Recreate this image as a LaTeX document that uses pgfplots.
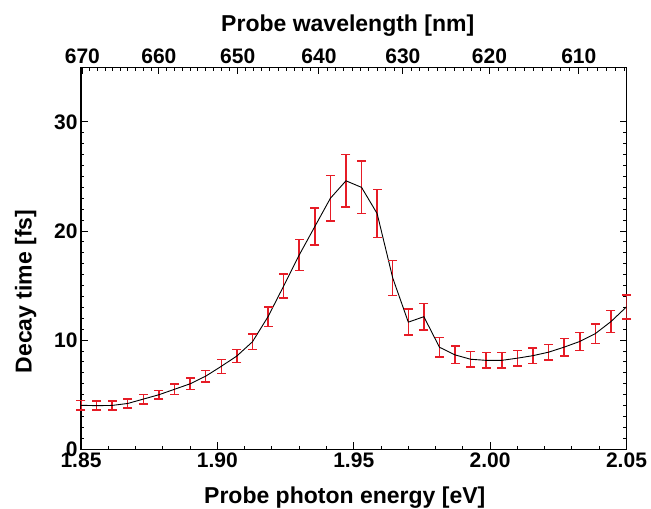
\documentclass[border=0pt]{standalone}
\usepackage{pgfplots}
\pgfplotsset{compat=1.18}
\usepackage{pgfplotstable}
\usepackage{fontspec}
\setmainfont{Liberation Sans}
\definecolor{ebred}{RGB}{230,28,38}

\pgfplotstableread{
E y err
1.85000 4.03 0.42
1.85571 4.00 0.41
1.86143 4.02 0.41
1.86714 4.20 0.41
1.87286 4.60 0.44
1.87857 5.00 0.40
1.88429 5.50 0.50
1.89000 6.00 0.53
1.89571 6.70 0.53
1.90143 7.60 0.64
1.90714 8.55 0.60
1.91286 9.85 0.70
1.91857 12.15 0.88
1.92429 14.95 1.10
1.93000 17.80 1.40
1.93571 20.40 1.70
1.94143 23.00 2.10
1.94714 24.60 2.40
1.95286 24.00 2.40
1.95857 21.60 2.20
1.96429 15.70 1.60
1.97000 11.65 1.20
1.97571 12.15 1.20
1.98143 9.35 0.90
1.98714 8.65 0.80
1.99286 8.25 0.70
1.99857 8.15 0.70
2.00429 8.15 0.70
2.01000 8.35 0.70
2.01571 8.58 0.70
2.02143 8.90 0.72
2.02714 9.36 0.80
2.03286 9.88 0.82
2.03857 10.60 0.90
2.04429 11.70 1.00
2.05000 13.05 1.10
}\decaydata

\begin{document}
\begin{tikzpicture}
\begin{axis}[
  scale only axis, width=545.5pt, height=382pt,
  xmin=1.85, xmax=2.05, ymin=0, ymax=35,
  xtick={1.85,1.90,1.95,2.00,2.05},
  xticklabels={1.85,1.90,1.95,2.00,2.05},
  minor x tick num=4,
  ytick={0,10,20,30}, minor y tick num=9,
  xtick pos=bottom, ytick pos=both,
  tick align=inside,
  major tick length=7pt, minor tick length=3.5pt,
  every tick/.style={black, line width=1pt},
  axis line style={line width=1.5pt},
  tick label style={font=\fontsize{21}{21}\selectfont\bfseries},
  /pgf/number format/assume math mode=true,
  xlabel={Probe photon energy [eV]},
  ylabel={Decay time [fs]},
  label style={font=\fontsize{23}{23}\selectfont\bfseries},
  xlabel style={at={(axis description cs:0.4835,-0.1406)}, anchor=base},
  ylabel style={at={(axis description cs:-0.0907,0.413)}, anchor=base},
  clip=true,
]
\addplot[ebred, only marks, mark=-, mark size=4.5pt,
  mark options={solid, line width=1.5pt}]
  table[x=E, y expr=\thisrow{y}+\thisrow{err}] {\decaydata};
\addplot[ebred, only marks, mark=-, mark size=4.5pt,
  mark options={solid, line width=1.5pt}]
  table[x=E, y expr=\thisrow{y}-\thisrow{err}] {\decaydata};
\addplot[ebred, draw=none,
  error bars/.cd, y dir=both, y explicit, error mark=none,
  error bar style={ebred, line width=1.5pt}]
  table[x=E, y=y, y error=err] {\decaydata};
\addplot[black, line width=0.9pt, mark=none] table[x=E, y=y] {\decaydata};
\end{axis}
\begin{axis}[
  scale only axis, width=545.5pt, height=382pt,
  xmin=1.85, xmax=2.05, ymin=0, ymax=35,
  axis x line*=top, axis y line=none,
  axis line style={line width=1.5pt, -},
  xtick={1.850507,1.878545,1.907446,1.937250,1.968000,1.999742,2.032525},
  xticklabels={670,660,650,640,630,620,610},
  minor xtick={1.853274,1.856048,1.858831,1.861622,1.864421,1.867229,1.870045,1.872870,1.875703,
    1.881396,1.884255,1.887123,1.890000,1.892885,1.895780,1.898683,1.901595,1.904516,
    1.910385,1.913333,1.916291,1.919257,1.922233,1.925217,1.928211,1.931215,1.934228,
    1.940282,1.943323,1.946374,1.949434,1.952504,1.955584,1.958673,1.961772,1.964881,
    1.971129,1.974268,1.977416,1.980575,1.983744,1.986923,1.990112,1.993312,1.996522,
    2.002973,2.006214,2.009465,2.012727,2.016000,2.019283,2.022577,2.025882,2.029198,
    2.035862,2.039211,2.042570,2.045941,2.049322},
  tick align=inside,
  major tick length=7pt, minor tick length=3.5pt,
  every tick/.style={black, line width=1pt},
  tick label style={font=\fontsize{21}{21}\selectfont\bfseries},
  xlabel={Probe wavelength [nm]},
  label style={font=\fontsize{23}{23}\selectfont\bfseries},
  xlabel style={at={(axis description cs:0.489,1.0932)}, anchor=base},
]
\addplot[draw=none, mark=none] coordinates {(1.9,10)};
\end{axis}
\pgfresetboundingbox
\useasboundingbox (-81pt,-59.7pt) rectangle (570pt,449.3pt);
\end{tikzpicture}
\end{document}
